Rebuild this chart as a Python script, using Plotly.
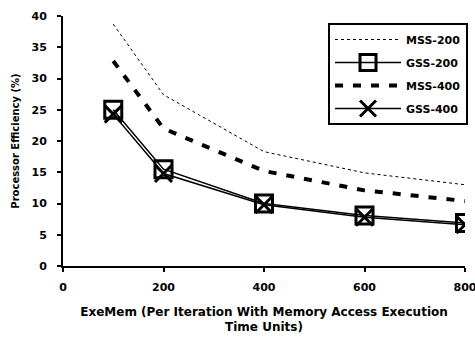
import plotly.graph_objects as go

x_vals = [100, 200, 400, 600, 800]
mss200 = [38.7, 27.4, 18.3, 14.9, 13.0]
gss200 = [25.0, 15.5, 10.0, 8.1, 6.9]
mss400 = [32.8, 22.0, 15.2, 12.1, 10.4]
gss400 = [24.3, 14.8, 9.8, 7.8, 6.6]

x_ticks = [0, 200, 400, 600, 800]
y_ticks = [0, 5, 10, 15, 20, 25, 30, 35, 40]

FONT = "DejaVu Sans"

fig = go.Figure()
fig.add_trace(go.Scatter(x=x_vals, y=mss200, name="MSS-200", mode="lines", legendgroup="a",
                         line=dict(color="black", width=1, dash="dot")))
fig.add_trace(go.Scatter(x=x_vals, y=gss200, name="GSS-200", mode="lines+markers", legendgroup="b",
                         line=dict(color="black", width=1.5),
                         marker=dict(symbol="square-open", size=17, color="black",
                                     line=dict(width=3, color="black"))))
fig.add_trace(go.Scatter(x=x_vals, y=mss400, name="MSS-400", mode="lines", legendgroup="c",
                         line=dict(color="black", width=4, dash="8px,10px")))
fig.add_trace(go.Scatter(x=x_vals, y=gss400, name="GSS-400", mode="lines+markers", legendgroup="d",
                         line=dict(color="black", width=1.5),
                         marker=dict(symbol="x-thin-open", size=17, color="black",
                                     line=dict(width=3, color="black"))))

axis_common = dict(showgrid=False, zeroline=False, showline=True, linecolor="black",
                   linewidth=2, ticks="outside", ticklen=4, tickwidth=2, tickcolor="black",
                   automargin=False, ticklabeloverflow="allow",
                   tickfont=dict(family=FONT, size=11, color="black", weight="bold"))

fig.update_layout(
    template="simple_white",
    width=475, height=339, autosize=False,
    margin=dict(l=63, r=10, t=16, b=73, autoexpand=False),
    paper_bgcolor="white", plot_bgcolor="white",
    font=dict(family=FONT, size=11, color="black", weight="bold"),
    showlegend=True,
    legend=dict(x=1.0075, y=0.972, xanchor="right", yanchor="top",
                bordercolor="black", borderwidth=2, bgcolor="white",
                font=dict(family=FONT, size=11, color="black", weight="bold"),
                itemwidth=66, tracegroupgap=4),
    xaxis=dict(range=[0, 800], tickvals=x_ticks, ticktext=[str(v) for v in x_ticks],
               ticklabelstandoff=6,
               title=dict(text="ExeMem (Per Iteration With Memory Access Execution<br>Time Units)",
                          font=dict(family=FONT, size=12, color="black", weight="bold"),
                          standoff=14),
               **axis_common),
    yaxis=dict(range=[0, 40], tickvals=y_ticks, ticktext=[str(v) for v in y_ticks],
               ticklabelstandoff=8,
               title=dict(text="Processor Efficiency (%)",
                          font=dict(family=FONT, size=10, color="black", weight="bold"),
                          standoff=10),
               **axis_common),
    xaxis2=dict(range=[0, 800], overlaying="x", anchor="y", tickvals=x_ticks,
                showticklabels=False, showline=False, showgrid=False, zeroline=False,
                ticks="inside", ticklen=4, tickwidth=2, tickcolor="black", side="bottom",
                automargin=False),
    yaxis2=dict(range=[0, 40], overlaying="y", anchor="x", tickvals=y_ticks,
                showticklabels=False, showline=False, showgrid=False, zeroline=False,
                ticks="inside", ticklen=4, tickwidth=2, tickcolor="black", side="left",
                automargin=False),
)

fig.write_html(
    "out.html",
    config={"responsive": False, "displayModeBar": False},
    post_script="document.body.style.margin='0';document.body.style.overflow='hidden';"
                "Plotly.relayout('{plot_id}', {width: 475, height: 339});",
)
